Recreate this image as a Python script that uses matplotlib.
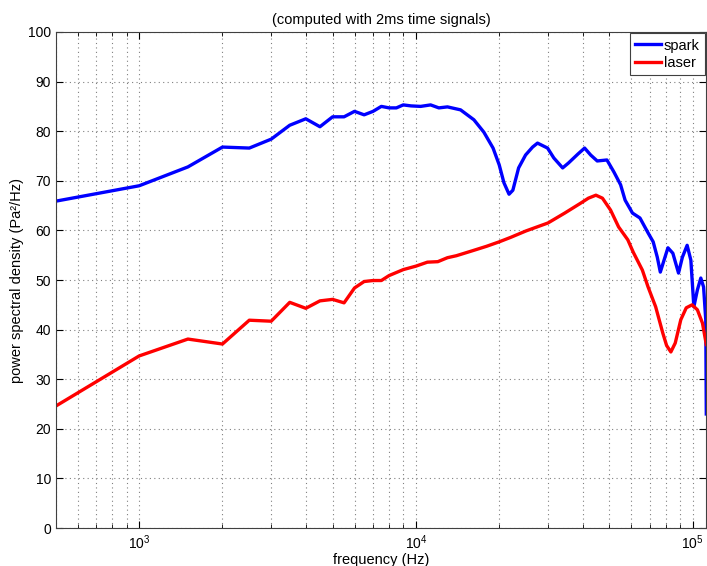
import matplotlib
matplotlib.use('Agg')
from matplotlib import pyplot as plt
from matplotlib.ticker import LogLocator, NullFormatter
import numpy as np

plt.rcParams['font.family'] = ['Liberation Sans', 'DejaVu Sans']

# spark spectrum (frequency in Hz, PSD in dB)
spark_f = [500, 1000, 1500, 2000, 2500, 3000, 3500, 4000, 4500, 5000, 5500, 6000,
           6500, 7000, 7500, 8000, 8500, 9000, 9600, 10400, 11300, 12100, 13000,
           14500, 16200, 17600, 19000, 20000, 20800, 21700, 22400, 23500, 24900,
           26400, 27500, 29900, 31500, 33900, 35600, 38500, 40700, 42800, 45200,
           49000, 51900, 54900, 57000, 60600, 64500, 69000, 72000, 74500, 76400,
           78800, 81400, 84800, 88900, 91800, 95500, 98500, 101000, 104000,
           107000, 109500, 111500, 112000]
spark_db = [65.9, 69.0, 72.8, 76.8, 76.6, 78.4, 81.2, 82.5, 80.9, 82.9, 82.9, 84.0,
            83.3, 84.0, 85.0, 84.7, 84.7, 85.3, 85.1, 85.0, 85.3, 84.7, 84.9,
            84.3, 82.3, 79.8, 76.6, 73.2, 69.6, 67.3, 68.1, 72.6, 75.2,
            76.8, 77.6, 76.6, 74.6, 72.6, 73.6, 75.4, 76.6, 75.2, 74.0,
            74.2, 71.8, 69.2, 66.1, 63.5, 62.5, 59.5, 57.7, 54.6, 51.6,
            54.0, 56.5, 55.4, 51.4, 54.6, 57.0, 54.0, 44.6, 48.0,
            50.4, 48.6, 42.0, 23.0]

# laser spectrum
laser_f = [500, 1000, 1500, 2000, 2500, 3000, 3500, 4000, 4500, 5000, 5500, 6000,
           6500, 7000, 7500, 8000, 9000, 10000, 11000, 12000, 13000, 14000, 16000,
           18000, 20000, 22000, 25000, 30000, 34500, 39400, 42000, 44700, 47200,
           50500, 54000, 58300, 61000, 65800, 69000, 73500, 78000, 80500, 83400,
           86500, 90600, 94800, 99500, 104000, 108500, 112000]
laser_db = [24.6, 34.7, 38.1, 37.1, 41.9, 41.7, 45.5, 44.3, 45.8, 46.1, 45.4, 48.4,
            49.7, 49.9, 49.9, 50.9, 52.1, 52.8, 53.6, 53.7, 54.5, 54.9, 55.9,
            56.8, 57.7, 58.6, 59.9, 61.5, 63.5, 65.5, 66.5, 67.1, 66.5,
            64.1, 60.7, 58.1, 55.6, 52.0, 48.6, 44.6, 39.3, 36.8, 35.5,
            37.3, 42.0, 44.4, 45.0, 44.0, 41.3, 37.0]

fig = plt.figure(figsize=(7.07, 5.66), dpi=100)
ax = fig.add_axes([0.079, 0.067, 0.92, 0.8765])

ax.semilogx(spark_f, spark_db, color=(0, 0, 1), lw=2.4, label='spark')
ax.semilogx(laser_f, laser_db, color=(1, 0, 0), lw=2.4, label='laser')

ax.set_xlim(500, 112000)
ax.set_ylim(0, 100)
ax.set_yticks(np.arange(0, 101, 10))
ax.xaxis.set_major_locator(LogLocator(base=10))
ax.xaxis.set_minor_locator(LogLocator(base=10, subs=np.arange(2, 10)))
ax.xaxis.set_minor_formatter(NullFormatter())

ax.grid(True, which='major', ls=(0, (1, 3)), color='#808080', lw=0.8)
ax.grid(True, which='minor', axis='x', ls=(0, (1, 3)), color='#808080', lw=0.8)

ax.tick_params(which='both', direction='in', top=True, right=True, labelsize=10)
ax.tick_params(which='major', length=5)
ax.tick_params(which='minor', length=3)
for s in ax.spines.values():
    s.set_color('#404040')

ax.set_title('(computed with 2ms time signals)', fontsize=10.5, pad=6)
ax.set_xlabel('frequency (Hz)', fontsize=10.5, labelpad=1)
ax.set_ylabel('power spectral density (Pa\u00b2/Hz)', fontsize=10.5, labelpad=3)

leg = ax.legend(loc='upper right', fontsize=10.5, fancybox=False, framealpha=1,
                edgecolor='#404040', handlelength=1.8, borderaxespad=0.1,
                borderpad=0.35, labelspacing=0.25, handletextpad=0.2)
leg.get_frame().set_linewidth(0.8)

fig.savefig('out.png', dpi=100)
